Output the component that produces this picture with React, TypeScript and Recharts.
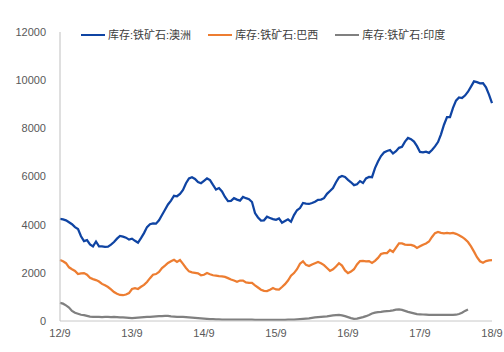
import { LineChart, Line, XAxis, YAxis } from "recharts";

// half-month samples starting 2012/9
const australia = [
  4240, 4220, 4180, 4100, 4020, 3900, 3820, 3520, 3320, 3360, 3180, 3100, 3300, 3100, 3100, 3080,
  3090, 3170, 3280, 3420, 3530, 3500, 3460, 3380, 3420, 3330, 3250, 3440, 3650, 3900, 4020, 4050,
  4040, 4180, 4400, 4620, 4840, 5000, 5200, 5180, 5280, 5440, 5720, 5920, 5970, 5900, 5770, 5720,
  5820, 5920, 5850, 5650, 5460, 5520, 5380, 5150, 4980, 4990, 5100, 5040, 5000, 5150, 5100, 5060,
  4940, 4480, 4300, 4170, 4180, 4330, 4280, 4230, 4200, 4260, 4080, 4150, 4220, 4120, 4400, 4600,
  4690, 4900, 4870, 4860, 4900, 4950, 5030, 5040, 5100, 5280, 5400, 5520, 5760, 5960, 6020, 5980,
  5860, 5760, 5640, 5680, 5810, 5730, 5920, 5980, 5970, 6350, 6620, 6850, 7000, 7060, 7100, 6960,
  7050, 7190, 7230, 7450, 7600, 7550, 7450, 7260, 7020, 7000, 7030, 6980, 7100, 7250, 7430, 7750,
  8150, 8470, 8470, 8850, 9150, 9280, 9260, 9360, 9520, 9730, 9950, 9920, 9870, 9880, 9700, 9400,
  9050,
];

const brazil = [
  2530, 2480, 2400, 2230, 2150, 2080, 1950, 1980, 1990, 1920, 1790, 1740, 1700, 1640, 1540, 1480,
  1410, 1310, 1200, 1130, 1080, 1070, 1100, 1160, 1330, 1360, 1330, 1420, 1500, 1620, 1780, 1920,
  1950, 2040, 2200, 2300, 2410, 2480, 2540, 2450, 2530, 2370, 2200, 2060, 2020, 2000, 1980, 1900,
  1920, 1990, 1940, 1900, 1880, 1860, 1850, 1830, 1780, 1720, 1680, 1630, 1680, 1680, 1600, 1580,
  1580, 1480, 1390, 1300, 1250, 1240, 1300, 1370, 1310, 1300, 1410, 1530, 1680, 1880, 1990, 2150,
  2380, 2480, 2330, 2280, 2350, 2400, 2450, 2400, 2320, 2200, 2080, 2150, 2260, 2400, 2300, 2100,
  1990, 2050, 2150, 2350, 2490, 2500, 2480, 2490, 2410, 2500, 2620, 2780, 2820, 2820, 2950, 2870,
  3050, 3220, 3220, 3170, 3160, 3160, 3120, 3030, 3100, 3170, 3220, 3300, 3490, 3650, 3700, 3660,
  3640, 3660, 3640, 3660, 3620, 3560, 3490, 3400, 3280, 3100, 2880, 2650, 2480, 2420, 2490, 2520,
  2530,
];

const india = [
  750, 720, 650, 560, 420, 340, 300, 260, 240, 210, 180, 170, 170, 170, 160, 170,
  170, 160, 170, 160, 150, 150, 140, 130, 120, 130, 140, 150, 160, 170, 170, 180,
  190, 200, 200, 210, 210, 190, 180, 170, 170, 170, 160, 150, 140, 130, 120, 110,
  100, 90, 80, 80, 70, 70, 60, 60, 60, 60, 60, 60, 60, 60, 60, 60,
  60, 50, 50, 50, 50, 50, 50, 50, 50, 50, 50, 50, 60, 60, 60, 70,
  80, 90, 100, 110, 130, 150, 160, 170, 180, 190, 210, 230, 240, 250, 230, 200,
  160, 120, 90, 100, 130, 160, 200, 250, 310, 350, 370, 380, 400, 410, 420, 440,
  470, 480, 460, 420, 380, 350, 320, 290, 280, 270, 260, 250, 250, 250, 250, 250,
  250, 250, 250, 250, 260, 290, 340, 420, 480,
];

const yearTicks = ["12/9", "13/9", "14/9", "15/9", "16/9", "17/9", "18/9"];

const SERIES = [
  { key: "au", name: "库存:铁矿石:澳洲", color: "#0f44a3" },
  { key: "br", name: "库存:铁矿石:巴西", color: "#ed7d31" },
  { key: "in", name: "库存:铁矿石:印度", color: "#808080" },
];

const data = australia.map((v, i) => ({
  t: i / 2,
  au: v,
  br: brazil[i],
  in: india[i],
}));

const font = "'Liberation Sans', 'Noto Sans CJK SC', sans-serif";

function LegendBox() {
  return (
    <div
      style={{
        position: "absolute",
        top: 28,
        left: 81,
        display: "flex",
        fontFamily: font,
        fontSize: 11,
        lineHeight: "14px",
        color: "#404040",
      }}
    >
      {SERIES.map((s) => (
        <div key={s.key} style={{ display: "flex", alignItems: "center", marginRight: 17 }}>
          <div style={{ width: 24, height: 2, background: s.color, marginRight: 3 }} />
          <span>{s.name}</span>
        </div>
      ))}
    </div>
  );
}

export default function App() {
  return (
    <div style={{ position: "absolute", left: 0, top: 0, width: 504, height: 352, background: "#fff" }}>
      <LineChart width={504} height={352} data={data} margin={{ top: 32, right: 12, bottom: 0, left: 0 }}>
        <XAxis
          dataKey="t"
          type="number"
          domain={[0, 72]}
          ticks={[0, 12, 24, 36, 48, 60, 72]}
          tickFormatter={(v: number) => yearTicks[v / 12]}
          height={31}
          tickLine={false}
          stroke="#c8c8c8"
          tick={{ fontSize: 11, fill: "#595959", fontFamily: font }}
        />
        <YAxis
          domain={[0, 12000]}
          ticks={[0, 2000, 4000, 6000, 8000, 10000, 12000]}
          width={60}
          tickLine={false}
          tickMargin={8}
          stroke="#bfbfbf"
          tick={{ fontSize: 11, fill: "#595959", fontFamily: font }}
        />
        {SERIES.map((s) => (
          <Line
            key={s.key}
            dataKey={s.key}
            name={s.name}
            stroke={s.color}
            strokeWidth={2.25}
            dot={false}
            isAnimationActive={false}
          />
        ))}
      </LineChart>
      <LegendBox />
    </div>
  );
}
